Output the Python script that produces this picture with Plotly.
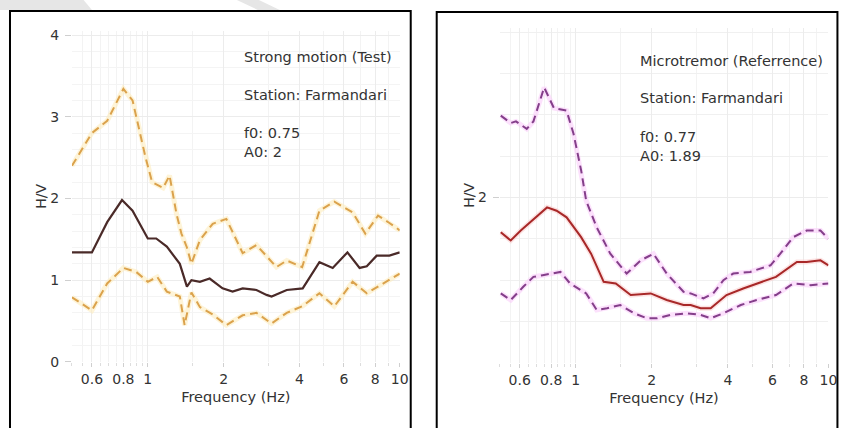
import plotly.graph_objects as go
import math

W, H = 844, 428

# ---------------- data ----------------
# Strong motion (Test)
sm_mean_f = [0.5, 0.6, 0.69, 0.79, 0.87, 1.0, 1.08, 1.19, 1.34, 1.43, 1.49, 1.61, 1.76, 1.98, 2.17,
             2.38, 2.7, 2.96, 3.1, 3.56, 4.12, 4.8, 5.42, 6.2, 6.93, 7.4, 8.1, 9.1, 10]
sm_mean = [1.34, 1.34, 1.71, 1.98, 1.85, 1.51, 1.51, 1.41, 1.2, 0.92, 1.0, 0.98, 1.02, 0.9, 0.86,
           0.9, 0.88, 0.82, 0.8, 0.88, 0.9, 1.22, 1.15, 1.34, 1.15, 1.17, 1.3, 1.3, 1.34]

sm_hi_f = [0.5, 0.6, 0.69, 0.8, 0.87, 0.98, 1.04, 1.15, 1.22, 1.3, 1.36, 1.43, 1.49, 1.61, 1.81,
           2.05, 2.38, 2.7, 3.24, 3.56, 4.1, 4.8, 5.5, 6.5, 7.3, 8.2, 9.1, 10]
sm_hi = [2.4, 2.8, 2.95, 3.34, 3.2, 2.5, 2.2, 2.13, 2.28, 1.81, 1.57, 1.4, 1.2, 1.49, 1.69,
         1.75, 1.33, 1.43, 1.16, 1.24, 1.16, 1.85, 1.96, 1.83, 1.57, 1.79, 1.7, 1.61]

sm_lo_f = [0.5, 0.6, 0.69, 0.8, 0.9, 1.0, 1.09, 1.19, 1.34, 1.4, 1.49, 1.61, 1.81, 2.05, 2.38,
           2.7, 3.1, 3.56, 4.1, 4.8, 5.5, 6.5, 7.4, 8.2, 10]
sm_lo = [0.79, 0.63, 0.96, 1.15, 1.1, 0.98, 1.04, 0.86, 0.8, 0.45, 0.85, 0.67, 0.58, 0.45, 0.57,
         0.6, 0.47, 0.6, 0.68, 0.84, 0.68, 0.98, 0.84, 0.92, 1.08]

# Microtremor (Referrence)
mt_mean_f = [0.505, 0.553, 0.606, 0.68, 0.77, 0.84, 0.92, 1.05, 1.15, 1.29, 1.44, 1.65, 1.98, 2.29,
             2.67, 2.85, 3.12, 3.42, 3.95, 4.6, 5.4, 6.2, 7.5, 8.2, 9.3, 10]
mt_mean = [1.58, 1.48, 1.6, 1.74, 1.88, 1.84, 1.76, 1.52, 1.32, 0.98, 0.96, 0.82, 0.84, 0.76,
           0.7, 0.7, 0.66, 0.66, 0.82, 0.9, 0.98, 1.04, 1.22, 1.22, 1.24, 1.18]

mt_hi_f = [0.505, 0.553, 0.58, 0.64, 0.68, 0.75, 0.82, 0.92, 0.98, 1.05, 1.1, 1.21, 1.37, 1.59,
           1.81, 2.03, 2.29, 2.67, 2.85, 3.2, 3.5, 3.84, 4.2, 4.9, 5.9, 6.45, 7.25, 8.2, 9.3, 10]
mt_hi = [2.99, 2.9, 2.92, 2.83, 2.92, 3.33, 3.08, 3.05, 2.77, 2.33, 1.96, 1.64, 1.32, 1.08,
         1.24, 1.32, 1.08, 0.86, 0.84, 0.78, 0.84, 1.0, 1.08, 1.1, 1.18, 1.32, 1.52, 1.6, 1.6, 1.5]

mt_lo_f = [0.505, 0.553, 0.62, 0.68, 0.74, 0.87, 0.95, 1.1, 1.21, 1.33, 1.5, 1.7, 1.91, 2.1, 2.37,
           2.75, 3.12, 3.42, 3.84, 4.5, 5.2, 6.2, 7.25, 8.5, 10]
mt_lo = [0.84, 0.76, 0.92, 1.04, 1.06, 1.1, 0.96, 0.84, 0.64, 0.66, 0.7, 0.6, 0.54, 0.54, 0.58,
         0.6, 0.58, 0.54, 0.6, 0.7, 0.76, 0.82, 0.96, 0.94, 0.96]

x_tickvals = [0.6, 0.8, 1, 2, 4, 6, 8, 10]
x_ticktext = ["0.6", "0.8", "1", "2", "4", "6", "8", "10"]
x_minorvals = [0.5, 0.55, 0.65, 0.7, 0.75, 0.85, 0.9, 0.95, 1.5, 3, 5, 7, 9]
left_yticks = [0, 1, 2, 3, 4]
right_yticks = [2]

left_texts = ["Strong motion (Test)", "Station: Farmandari", "f0: 0.75<br>A0: 2"]
right_texts = ["Microtremor (Referrence)", "Station: Farmandari", "f0: 0.77<br>A0: 1.89"]

# ---------------- helpers (target pixel -> paper fraction) ----------------
SX, SY, OY = 0.99, 0.975, 3.0

def px(x):
    return (x / SX) / W

def py(y):
    return 1 - ((y - OY) / SY) / H

FONT = "DejaVu Sans"
TXT = "#333333"

fig = go.Figure()

def add_series(f, v, xa, ya, color, glow, dash, width=2.0):
    if glow:
        fig.add_trace(go.Scatter(x=f, y=v, xaxis=xa, yaxis=ya, mode="lines",
                                 line=dict(color=glow, width=5), hoverinfo="skip",
                                 showlegend=False))
    fig.add_trace(go.Scatter(x=f, y=v, xaxis=xa, yaxis=ya, mode="lines",
                             line=dict(color=color, width=width, dash=dash),
                             showlegend=False))

# left panel
add_series(sm_hi_f, sm_hi, "x", "y", "#dba24c", "rgba(253,236,190,0.6)", "8px,5px")
add_series(sm_lo_f, sm_lo, "x", "y", "#dba24c", "rgba(253,236,190,0.6)", "8px,5px")
add_series(sm_mean_f, sm_mean, "x", "y", "#4a2a28", None, "solid", 2.2)
# right panel
add_series(mt_hi_f, mt_hi, "x2", "y2", "#843e8a", "rgba(250,205,250,0.6)", "8px,5px")
add_series(mt_lo_f, mt_lo, "x2", "y2", "#843e8a", "rgba(250,205,250,0.6)", "8px,5px")
add_series(mt_mean_f, mt_mean, "x2", "y2", "#a82828", "rgba(250,200,200,0.5)", "solid", 2.0)

common_x = dict(
    type="log", range=[math.log10(0.5), 1], tickvals=x_tickvals, ticktext=x_ticktext,
    showgrid=True, gridcolor="#ececec", gridwidth=1, zeroline=False, showline=False,
    ticks="outside", ticklen=4, tickcolor="#cfcfcf",
    tickfont=dict(family=FONT, size=14, color=TXT),
    minor=dict(tickvals=x_minorvals, showgrid=True, gridcolor="#f3f3f3", ticks="outside",
               ticklen=3, tickcolor="#dddddd"),
    title=dict(text="Frequency (Hz)", font=dict(family=FONT, size=14.5, color=TXT), standoff=6),
)

ycommon = dict(showgrid=True, gridcolor="#ececec", zeroline=False, showline=False,
               ticks="outside", ticklen=6, tickcolor="#cfcfcf", ticklabelstandoff=3,
               tickfont=dict(family=FONT, size=14, color=TXT),
               title=dict(text="H/V", font=dict(family=FONT, size=14, color=TXT), standoff=0))

fig.update_layout(
    width=W, height=H, margin=dict(l=0, r=0, t=0, b=0),
    paper_bgcolor="white", plot_bgcolor="white", showlegend=False,
    xaxis=dict(domain=[px(72), px(400)], anchor="y", **common_x),
    xaxis2=dict(domain=[px(500), px(829)], anchor="y2", **common_x),
    yaxis=dict(domain=[py(362), py(30)], anchor="x", range=[0, 4.05], tickvals=left_yticks,
               minor=dict(dtick=0.2, showgrid=True, gridcolor="#f4f4f4"), **ycommon),
    yaxis2=dict(domain=[py(363), py(27)], anchor="x2", range=[0, 4.05], tickvals=right_yticks,
                minor=dict(dtick=0.5, showgrid=True, gridcolor="#f0f0f0"), **ycommon),
)

# annotations
left_y = [56, 94, 142]
right_y = [60, 97, 146]
for t, yy in zip(left_texts, left_y):
    fig.add_annotation(text=t, xref="paper", yref="paper", x=px(242), y=py(yy),
                       xanchor="left", yanchor="middle", align="left", showarrow=False,
                       font=dict(family=FONT, size=14.5, color=TXT))
for t, yy in zip(right_texts, right_y):
    fig.add_annotation(text=t, xref="paper", yref="paper", x=px(638), y=py(yy),
                       xanchor="left", yanchor="middle", align="left", showarrow=False,
                       font=dict(family=FONT, size=14.5, color=TXT))

# panel frames
fig.add_shape(type="rect", xref="paper", yref="paper", x0=px(10), x1=px(411), y0=-0.05, y1=py(10),
              line=dict(color="black", width=2), fillcolor="rgba(0,0,0,0)", layer="above")
fig.add_shape(type="rect", xref="paper", yref="paper", x0=px(437), x1=px(838), y0=-0.05, y1=py(11),
              line=dict(color="black", width=2), fillcolor="rgba(0,0,0,0)", layer="above")

# light grey decoration at the top
fig.add_shape(type="path", xref="paper", yref="paper",
              path=f"M 0 1.02 L {px(80)} 1.02 L {px(92)} {py(9)} L 0 {py(9)} Z",
              fillcolor="#e6e6e6", line=dict(width=0), layer="below")
fig.add_shape(type="path", xref="paper", yref="paper",
              path=f"M {px(228)} 1.02 L {px(250)} 1.02 L {px(280)} {py(9)} L {px(258)} {py(9)} Z",
              fillcolor="#e6e6e6", line=dict(width=0), layer="below")

fig.write_html("out.html", config={"displayModeBar": False},
               post_script="document.body.style.margin='0px';document.body.style.overflow='hidden';")
